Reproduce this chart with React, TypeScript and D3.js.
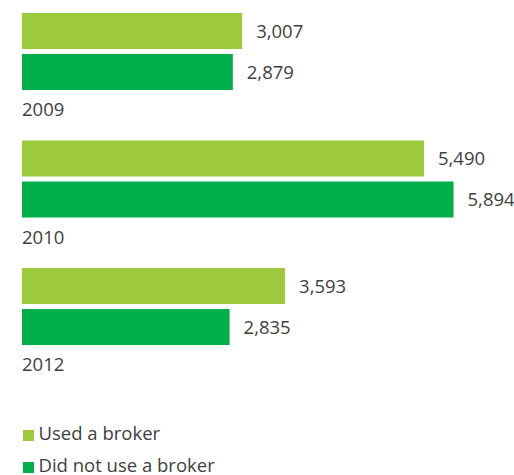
import React from "react";
import * as d3 from "d3";

const years = ["2009", "2010", "2012"];
const seriesNames = ["Used a broker", "Did not use a broker"];
const usedBroker = [3007, 5490, 3593];
const notUsedBroker = [2879, 5894, 2835];
const colors = ["#9DC93C", "#00AE4C"];

const W = 514;
const H = 475;
const FONT = "'Open Sans', sans-serif";
const TEXT = "#404040";

export default function App() {
  const x = d3.scaleLinear().domain([0, 6000]).range([22, 22 + 6000 * 0.07322]);
  const yGroup = d3.scaleBand<string>().domain(years).range([13, 13 + 3 * 127.5]);
  const yInner = d3
    .scaleBand<string>()
    .domain(seriesNames)
    .range([0, 77])
    .paddingInner(5 / 41)
    .paddingOuter(0);
  const values = [usedBroker, notUsedBroker];
  const fmt = d3.format(",");

  return (
    <svg
      width={W}
      height={H}
      style={{ position: "absolute", left: 0, top: 0, background: "#fff" }}
      fontFamily={FONT}
    >
      {years.map((yr, i) => {
        const gy = yGroup(yr)!;
        return (
          <g key={yr}>
            {seriesNames.map((s, j) => {
              const v = values[j][i];
              const by = gy + yInner(s)!;
              const bh = yInner.bandwidth();
              return (
                <g key={s}>
                  <rect x={x(0)} y={by} width={x(v) - x(0)} height={bh} fill={colors[j]} />
                  <text
                    x={x(v) + 14}
                    y={by + bh / 2 + 6.5}
                    fontSize={18.5}
                    fill={TEXT}
                  >
                    {fmt(v)}
                  </text>
                </g>
              );
            })}
            <text x={x(0)} y={gy + 103} fontSize={18.5} fill={TEXT}>
              {yr}
            </text>
          </g>
        );
      })}
      {seriesNames.map((s, j) => {
        const ly = 430 + j * 32;
        return (
          <g key={s}>
            <rect x={23} y={ly} width={11} height={11} fill={colors[j]} />
            <text x={38.5} y={ly + 10} fontSize={18.5} fill={TEXT}>
              {s}
            </text>
          </g>
        );
      })}
    </svg>
  );
}
